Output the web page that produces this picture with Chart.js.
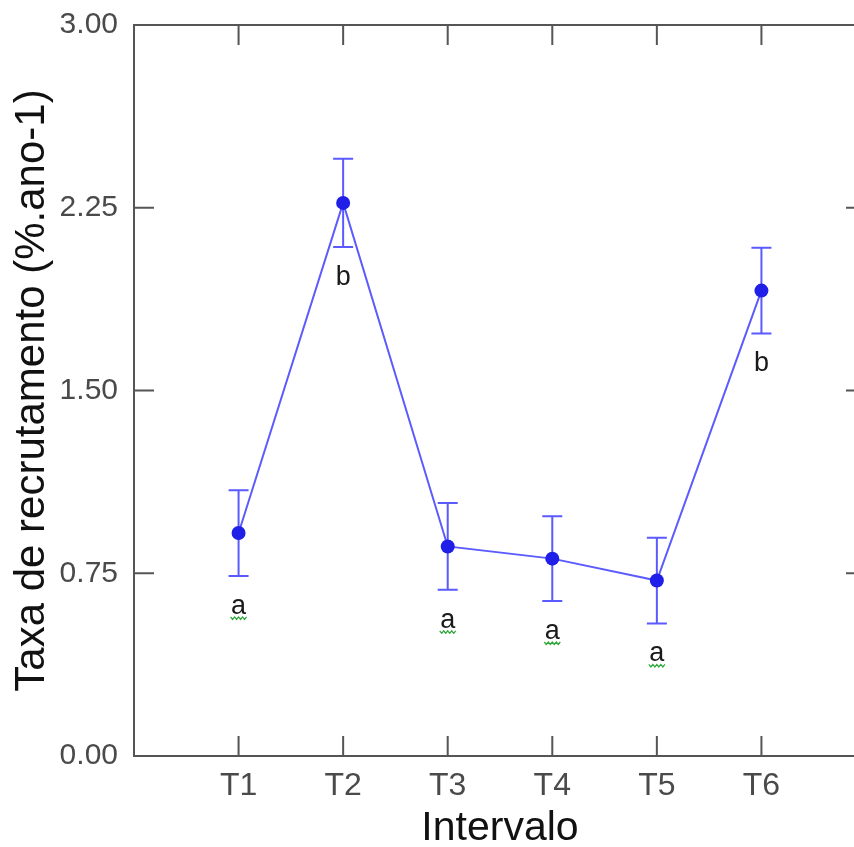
<!DOCTYPE html>
<html>
<head>
<meta charset="utf-8">
<script src="https://cdn.jsdelivr.net/npm/chart.js@4/dist/chart.umd.min.js"></script>
<style>
  html, body { margin: 0; padding: 0; background: #fff; overflow: hidden; }
</style>
</head>
<body>
<canvas id="recrutamento" width="880" height="860"></canvas>
<script>
// Recruitment rate per interval (mean and standard error)
const categories = ['T1', 'T2', 'T3', 'T4', 'T5', 'T6'];
const means = [0.915, 2.27, 0.86, 0.81, 0.72, 1.91];
const errors = [0.176, 0.181, 0.178, 0.174, 0.176, 0.176];
const groups = ['a', 'b', 'a', 'a', 'a', 'b'];
const yTicks = [0, 0.75, 1.5, 2.25, 3];

const axisColor = '#555555';
const lineColor = '#5b5bff';
const pointColor = '#1f1fe8';
const barColor = '#5a5aff';

// Error bars with caps, drawn under the points
const errorBars = {
    id: 'errorBars',
    beforeDatasetsDraw(chart) {
        const { ctx, scales: { x, y } } = chart;
        ctx.save();
        ctx.strokeStyle = barColor;
        ctx.lineWidth = 2;
        ctx.beginPath();
        means.forEach((m, i) => {
            const px = x.getPixelForValue(i + 1);
            const top = y.getPixelForValue(m + errors[i]);
            const bot = y.getPixelForValue(m - errors[i]);
            ctx.moveTo(px, top);
            ctx.lineTo(px, bot);
            ctx.moveTo(px - 10, top);
            ctx.lineTo(px + 10, top);
            ctx.moveTo(px - 10, bot);
            ctx.lineTo(px + 10, bot);
        });
        ctx.stroke();
        ctx.restore();
    }
};

// Group letters below each lower whisker
const groupLetters = {
    id: 'groupLetters',
    afterDatasetsDraw(chart) {
        const { ctx, scales: { x, y } } = chart;
        ctx.save();
        ctx.font = '27px "Liberation Sans", Arial, sans-serif';
        ctx.textAlign = 'center';
        ctx.textBaseline = 'alphabetic';
        groups.forEach((g, i) => {
            const px = x.getPixelForValue(i + 1);
            const base = y.getPixelForValue(means[i] - errors[i]) + 38;
            ctx.fillStyle = '#1a1a1a';
            ctx.fillText(g, px, base);
            if (g === 'a') {
                // wavy underline
                ctx.strokeStyle = '#2fa83a';
                ctx.lineWidth = 1.3;
                ctx.beginPath();
                for (let k = 0; k <= 8; k++) {
                    const sx = px - 8 + k * 2;
                    const sy = base + 3 + (k % 2 === 0 ? 0 : 2.5);
                    if (k === 0) ctx.moveTo(sx, sy); else ctx.lineTo(sx, sy);
                }
                ctx.stroke();
            }
        });
        ctx.restore();
    }
};

// Box frame with inward tick marks on all four sides
const frameTicks = {
    id: 'frameTicks',
    afterDraw(chart) {
        const { ctx, chartArea: { left, right, top, bottom }, scales: { x, y } } = chart;
        ctx.save();
        ctx.strokeStyle = axisColor;
        ctx.lineWidth = 2;
        ctx.strokeRect(left, top, right - left, bottom - top);
        ctx.beginPath();
        categories.forEach((c, i) => {
            const px = x.getPixelForValue(i + 1);
            ctx.moveTo(px, bottom);
            ctx.lineTo(px, bottom - 20);
            ctx.moveTo(px, top);
            ctx.lineTo(px, top + 20);
        });
        yTicks.forEach(v => {
            const py = y.getPixelForValue(v);
            ctx.moveTo(left, py);
            ctx.lineTo(left + 20, py);
            ctx.moveTo(right, py);
            ctx.lineTo(right - 20, py);
        });
        ctx.stroke();
        ctx.restore();
    }
};

const ctx = document.getElementById('recrutamento').getContext('2d');
new Chart(ctx, {
    type: 'line',
    data: {
        datasets: [{
            data: means.map((m, i) => ({ x: i + 1, y: m })),
            borderColor: lineColor,
            borderWidth: 2,
            tension: 0,
            pointRadius: 7,
            pointBackgroundColor: pointColor,
            pointBorderWidth: 0,
            pointHoverRadius: 7
        }]
    },
    options: {
        responsive: false,
        animation: false,
        layout: { padding: { top: 25, right: 14, left: 0, bottom: 0 } },
        plugins: {
            legend: { display: false },
            tooltip: { enabled: false }
        },
        scales: {
            x: {
                type: 'linear',
                min: 0,
                max: 7,
                grid: { display: false, drawTicks: false },
                border: { display: false },
                ticks: {
                    stepSize: 1,
                    padding: 11,
                    color: '#4a4a4a',
                    font: { family: '"Liberation Sans", Arial, sans-serif', size: 32 },
                    callback: v => categories[v - 1] || ''
                },
                title: {
                    display: true,
                    text: 'Intervalo',
                    color: '#111',
                    padding: 7,
                    font: { family: '"Liberation Sans", Arial, sans-serif', size: 41 }
                },
                afterFit(scale) {
                    scale.height = 104;
                    scale.paddingLeft = 0;
                    scale.paddingRight = 0;
                }
            },
            y: {
                min: 0,
                max: 3,
                grid: { display: false, drawTicks: false },
                border: { display: false },
                afterBuildTicks(scale) { scale.ticks = yTicks.map(v => ({ value: v })); },
                ticks: {
                    padding: 16,
                    color: '#4a4a4a',
                    font: { family: '"Liberation Sans", Arial, sans-serif', size: 30 },
                    callback: v => v.toFixed(2)
                },
                title: {
                    display: true,
                    text: 'Taxa de recrutamento (%.ano-1)',
                    color: '#111',
                    padding: 7,
                    font: { family: '"Liberation Sans", Arial, sans-serif', size: 42 }
                },
                afterFit(scale) {
                    scale.width = 134;
                    scale.paddingTop = 0;
                    scale.paddingBottom = 0;
                }
            }
        }
    },
    plugins: [errorBars, groupLetters, frameTicks]
});
</script>
</body>
</html>
